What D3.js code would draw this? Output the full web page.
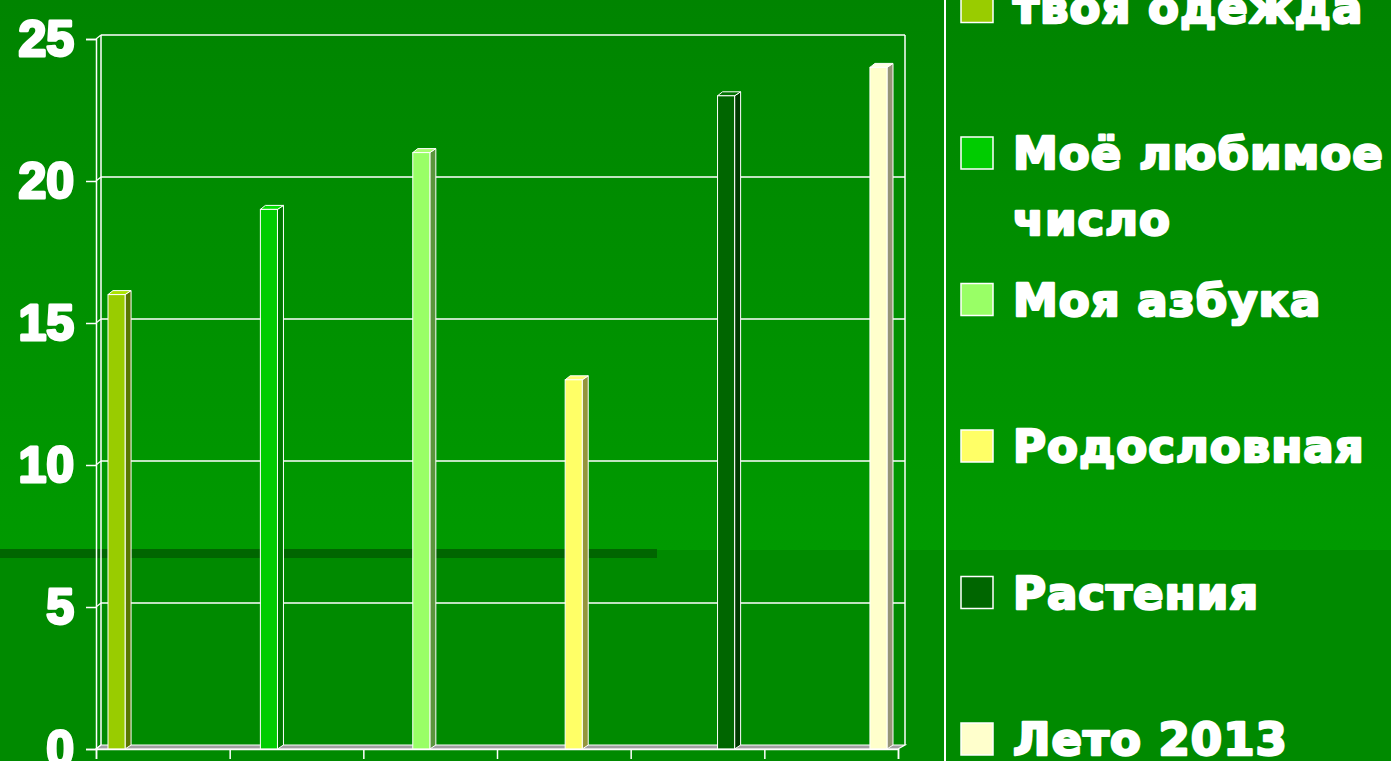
<!DOCTYPE html>
<html>
<head>
<meta charset="utf-8">
<script src="https://cdn.jsdelivr.net/npm/d3@7"></script>
<style>
  html, body { margin: 0; padding: 0; background: #008800; overflow: hidden; }
  svg { display: block; }
</style>
</head>
<body>
<div id="chart"></div>
<script>
// 3D column chart, one bar per series

const series = ["твоя одежда", "Моё любимое число", "Моя азбука", "Родословная", "Растения", "Лето 2013"];
const legendLines = [["твоя одежда"], ["Моё любимое", "число"], ["Моя азбука"], ["Родословная"], ["Растения"], ["Лето 2013"]];
const values = [16, 19, 21, 13, 23, 24];
const colors = ["#99cc00", "#00cc00", "#99ff66", "#ffff66", "#006600", "#ffffcc"];
const yTicks = [0, 5, 10, 15, 20, 25];
const xTickCount = 6;

const W = 1391, H = 761;
const depth = { dx: 5, dy: -4 };

function draw() {
    const svg = d3.select("#chart").append("svg")
        .attr("width", W)
        .attr("height", H);

    // background
    const defs = svg.append("defs");
    const grad = defs.append("linearGradient")
        .attr("id", "bg")
        .attr("gradientUnits", "userSpaceOnUse")
        .attr("x1", 0).attr("y1", 0).attr("x2", 0).attr("y2", 550);
    grad.append("stop").attr("offset", 0).attr("stop-color", "#008400");
    grad.append("stop").attr("offset", 1).attr("stop-color", "#009a00");

    svg.append("rect").attr("width", W).attr("height", 550).attr("fill", "url(#bg)");
    svg.append("rect").attr("y", 550).attr("width", W).attr("height", H - 550).attr("fill", "#008a00");
    svg.append("rect").attr("x", 0).attr("y", 549).attr("width", 657).attr("height", 9).attr("fill", "#006600");
    svg.append("rect").attr("x", 944).attr("y", 0).attr("width", 2).attr("height", H).attr("fill", "#ffffff");

    // scales (front plane)
    const y = d3.scaleLinear().domain([0, 25]).range([749, 39]);
    const xAxis = d3.scaleLinear().domain([0, xTickCount]).range([96, 898]);
    const x = d3.scaleBand().domain(series).range([108, 887]).paddingInner(0.888).paddingOuter(0);

    const left = 96, right = 898, bottom = y(0), top = y(25);
    const bx = d3.scaleLinear().domain([0, 1]).range([left + depth.dx, right + depth.dx + 2]);

    const g = svg.append("g");

    // back wall gridlines
    g.selectAll(".grid").data(yTicks.slice(1)).join("line")
        .attr("x1", left + depth.dx).attr("x2", bx(1))
        .attr("y1", d => y(d) + depth.dy).attr("y2", d => y(d) + depth.dy)
        .attr("stroke", "#ffffff").attr("stroke-width", 1.5);
    // side wall gridlines
    g.selectAll(".sgrid").data(yTicks).join("line")
        .attr("x1", left).attr("x2", left + depth.dx)
        .attr("y1", d => y(d)).attr("y2", d => y(d) + depth.dy)
        .attr("stroke", "#ffffff").attr("stroke-width", 1.2);
    // wall edges
    g.append("line").attr("x1", left + depth.dx).attr("x2", left + depth.dx)
        .attr("y1", top + depth.dy).attr("y2", bottom + depth.dy)
        .attr("stroke", "#ffffff").attr("stroke-width", 1.5);
    g.append("line").attr("x1", bx(1)).attr("x2", bx(1))
        .attr("y1", top + depth.dy).attr("y2", bottom + depth.dy)
        .attr("stroke", "#ffffff").attr("stroke-width", 1.5);

    // floor
    g.append("path")
        .attr("d", `M${left},${bottom} L${left + depth.dx},${bottom + depth.dy} L${bx(1)},${bottom + depth.dy} L${right},${bottom} Z`)
        .attr("fill", "#a0a0a0")
        .attr("stroke", "#ffffff").attr("stroke-width", 1.2);

    // bars
    const bars = g.selectAll(".bar").data(series).join("g");
    bars.each(function(s, i) {
        const b = d3.select(this);
        const x0 = x(s), w = x.bandwidth(), yt = y(values[i]);
        const c = colors[i];
        // side
        b.append("path")
            .attr("d", `M${x0 + w},${yt} L${x0 + w + depth.dx + 1},${yt + depth.dy} L${x0 + w + depth.dx + 1},${bottom + depth.dy} L${x0 + w},${bottom} Z`)
            .attr("fill", d3.color(c).darker(1.5))
            .attr("stroke", "#ffffff").attr("stroke-width", 1);
        // top
        b.append("path")
            .attr("d", `M${x0},${yt} L${x0 + depth.dx},${yt + depth.dy} L${x0 + w + depth.dx + 1},${yt + depth.dy} L${x0 + w},${yt} Z`)
            .attr("fill", d3.color(c).brighter(0.3))
            .attr("stroke", "#ffffff").attr("stroke-width", 1);
        // front
        b.append("rect")
            .attr("x", x0).attr("y", yt)
            .attr("width", w).attr("height", bottom - yt)
            .attr("fill", c)
            .attr("stroke", "#ffffff").attr("stroke-width", 1);
    });

    // front axes
    const yAx = svg.append("g")
        .attr("transform", `translate(${left},0)`)
        .call(d3.axisLeft(y).tickValues(yTicks).tickSize(10).tickPadding(12));
    yAx.select(".domain").attr("stroke", "#ffffff").attr("stroke-width", 1.5);
    yAx.selectAll(".tick line").attr("stroke", "#ffffff").attr("stroke-width", 1.5);
    yAx.selectAll(".tick text")
        .attr("fill", "#ffffff")
        .attr("stroke", "#ffffff").attr("stroke-width", 3)
        .attr("stroke-linejoin", "round")
        .style("font-family", "'Liberation Sans', Arial, sans-serif")
        .style("font-weight", "bold")
        .style("font-size", "50px");

    const xAx = svg.append("g")
        .attr("transform", `translate(0,${bottom})`)
        .call(d3.axisBottom(xAxis).ticks(xTickCount).tickSize(10).tickFormat(""));
    xAx.select(".domain").attr("stroke", "#ffffff").attr("stroke-width", 1.5);
    xAx.selectAll(".tick line").attr("stroke", "#ffffff").attr("stroke-width", 1.5);

    // legend
    const legend = svg.append("g");
    const rows = legend.selectAll("g").data(series).join("g")
        .attr("transform", (d, i) => `translate(961,${i * 146.5 - 9.5})`);
    rows.append("rect")
        .attr("width", 32).attr("height", 32)
        .attr("fill", (d, i) => colors[i])
        .attr("stroke", "#ffffff").attr("stroke-width", 1.5);
    rows.append("text")
        .attr("x", 52)
        .attr("y", 32)
        .attr("fill", "#ffffff")
        .attr("stroke", "#ffffff").attr("stroke-width", 2.5)
        .attr("stroke-linejoin", "round")
        .style("font-family", "'DejaVu Sans', sans-serif")
        .style("font-weight", "bold")
        .style("font-size", "45px")
        .style("letter-spacing", "1px")
        .each(function(d, i) {
            const t = d3.select(this);
            legendLines[i].forEach((ln, k) => {
                t.append("tspan").attr("x", 52).attr("dy", k === 0 ? 0 : 66).text(ln);
            });
        });
}

draw();
</script>
</body>
</html>
